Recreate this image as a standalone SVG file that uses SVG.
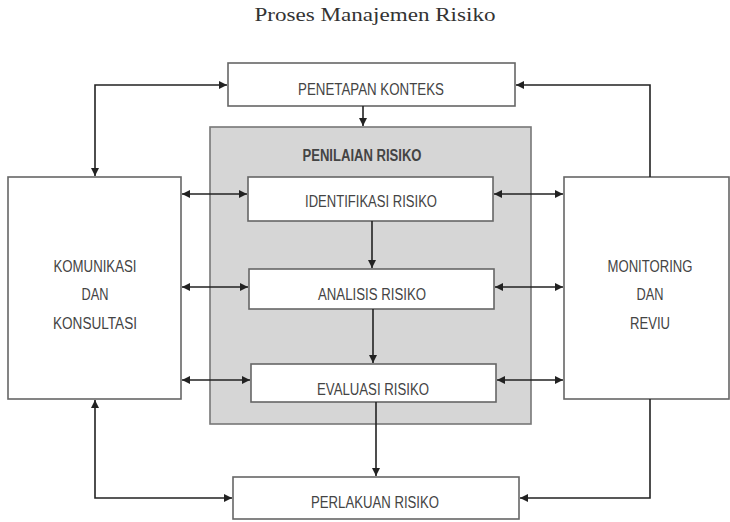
<svg xmlns="http://www.w3.org/2000/svg" width="730" height="522" viewBox="0 0 730 522">
<style>
.box{fill:#fff;stroke:#666;stroke-width:1.6}
.t{font-family:"Liberation Sans Narrow","Liberation Sans",Arial,sans-serif;font-size:16px;fill:#444;text-anchor:middle}
.c{fill:none;stroke:#222;stroke-width:1.6}
</style>
<defs>
<marker id="ah" viewBox="0 0 10 10" refX="10" refY="5" markerWidth="8" markerHeight="8" markerUnits="userSpaceOnUse" orient="auto-start-reverse">
<path d="M0,0 L10,5 L0,10 z" fill="#222"/>
</marker>
</defs>
<rect width="730" height="522" fill="#fff"/>
<text x="375" y="21" font-family="Liberation Serif,serif" font-size="18" fill="#333" text-anchor="middle" textLength="241" lengthAdjust="spacingAndGlyphs">Proses Manajemen Risiko</text>

<g id="penilaian">
<rect x="210" y="127" width="321" height="297" fill="#d6d6d6" stroke="#777" stroke-width="1.6"/>
<text class="t" x="362" y="161" font-weight="bold" textLength="119" lengthAdjust="spacingAndGlyphs">PENILAIAN RISIKO</text>
</g>
<g id="penetapan">
<rect class="box" x="228" y="63" width="287" height="43"/>
<text class="t" x="371" y="95" textLength="146" lengthAdjust="spacingAndGlyphs">PENETAPAN KONTEKS</text>
</g>
<g id="komunikasi">
<rect class="box" x="8" y="177" width="173" height="222"/>
<text class="t" x="95" y="272" textLength="83" lengthAdjust="spacingAndGlyphs">KOMUNIKASI</text>
<text class="t" x="95" y="300" textLength="27" lengthAdjust="spacingAndGlyphs">DAN</text>
<text class="t" x="95" y="329" textLength="84" lengthAdjust="spacingAndGlyphs">KONSULTASI</text>
</g>
<g id="monitoring">
<rect class="box" x="564" y="177" width="165" height="222"/>
<text class="t" x="650" y="272" textLength="85" lengthAdjust="spacingAndGlyphs">MONITORING</text>
<text class="t" x="650" y="300" textLength="27" lengthAdjust="spacingAndGlyphs">DAN</text>
<text class="t" x="650" y="329" textLength="40" lengthAdjust="spacingAndGlyphs">REVIU</text>
</g>
<g id="identifikasi">
<rect class="box" x="248" y="177" width="245" height="44"/>
<text class="t" x="371" y="207" textLength="132" lengthAdjust="spacingAndGlyphs">IDENTIFIKASI RISIKO</text>
</g>
<g id="analisis">
<rect class="box" x="249" y="269" width="245" height="40"/>
<text class="t" x="372" y="300" textLength="108" lengthAdjust="spacingAndGlyphs">ANALISIS RISIKO</text>
</g>
<g id="evaluasi">
<rect class="box" x="251" y="364" width="245" height="38"/>
<text class="t" x="373" y="395" textLength="112" lengthAdjust="spacingAndGlyphs">EVALUASI RISIKO</text>
</g>
<g id="perlakuan">
<rect class="box" x="233" y="477" width="286" height="42"/>
<text class="t" x="375" y="508" textLength="128" lengthAdjust="spacingAndGlyphs">PERLAKUAN RISIKO</text>
</g>

<g id="connectors">
<path class="c" d="M95,176 V85 H227" marker-start="url(#ah)" marker-end="url(#ah)"/>
<path class="c" d="M650,177 V85 H516" marker-end="url(#ah)"/>
<path class="c" d="M363,106 V126" marker-end="url(#ah)"/>
<path class="c" d="M182,194 H247" marker-start="url(#ah)" marker-end="url(#ah)"/>
<path class="c" d="M182,287 H248" marker-start="url(#ah)" marker-end="url(#ah)"/>
<path class="c" d="M182,380 H250" marker-start="url(#ah)" marker-end="url(#ah)"/>
<path class="c" d="M494,194 H563" marker-start="url(#ah)" marker-end="url(#ah)"/>
<path class="c" d="M495,287 H563" marker-start="url(#ah)" marker-end="url(#ah)"/>
<path class="c" d="M497,380 H563" marker-start="url(#ah)" marker-end="url(#ah)"/>
<path class="c" d="M372,221 V268" marker-end="url(#ah)"/>
<path class="c" d="M373,309 V363" marker-end="url(#ah)"/>
<path class="c" d="M376,402 V476" marker-end="url(#ah)"/>
<path class="c" d="M95,400 V498 H232" marker-start="url(#ah)" marker-end="url(#ah)"/>
<path class="c" d="M650,399 V498 H520" marker-end="url(#ah)"/>
</g>
</svg>
